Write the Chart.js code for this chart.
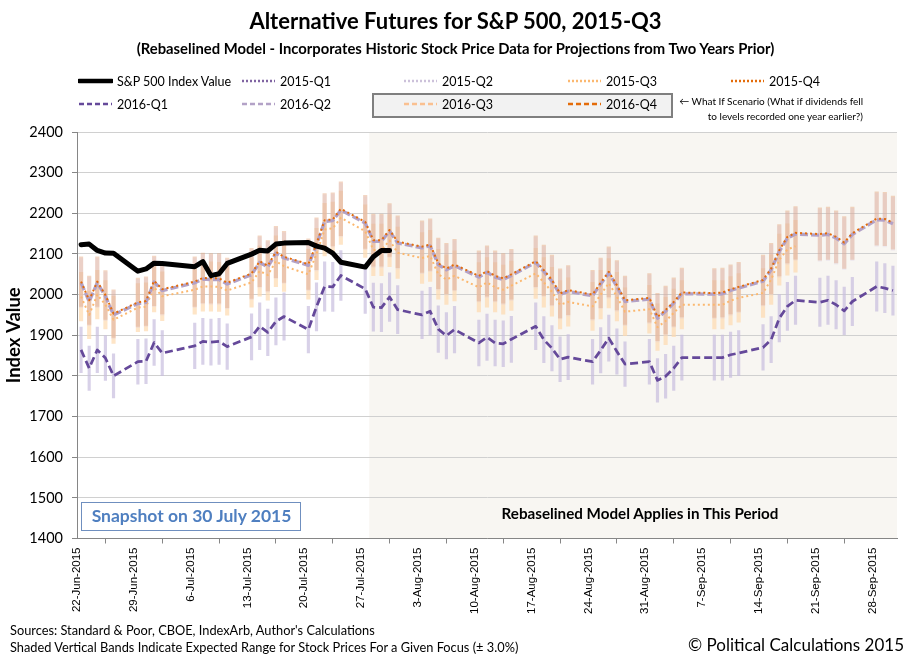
<!DOCTYPE html>
<html>
<head>
<meta charset="utf-8">
<script src="https://cdn.jsdelivr.net/npm/chart.js@4.4.1/dist/chart.umd.min.js"></script>
<style>
  html, body { margin:0; padding:0; background:#fff; }
  #wrap { position:relative; width:911px; height:662px; overflow:hidden; font-family:'Lato', 'Noto Sans', sans-serif; }
  #c { position:absolute; left:0; top:0; }
  .t { position:absolute; white-space:nowrap; color:#000; }
  .lg { position:absolute; height:14px; display:flex; align-items:center; font-size:12.5px; white-space:nowrap; }
  .lg svg { margin-right:4px; }
</style>
</head>
<body>
<div id="wrap">
  <canvas id="c" width="911" height="662"></canvas>

  <div class="t" style="left:0;width:911px;top:7px;text-align:center;font-weight:bold;font-size:22px;">Alternative Futures for S&amp;P 500, 2015-Q3</div>
  <div class="t" style="left:0;width:911px;top:39px;text-align:center;font-weight:bold;font-size:14.8px;">(Rebaselined Model - Incorporates Historic Stock Price Data for Projections from Two Years Prior)</div>

  <div style="position:absolute;left:372px;top:93px;width:297px;height:21px;border:2px solid #7f7f7f;background:#f2f2f2;"></div>
  <div id="legend"></div>
  <div class="t" style="left:600px;width:263px;top:94px;text-align:right;font-size:10px;line-height:15px;">&larr; What If Scenario (What if dividends fell<br>to levels recorded one year earlier?)</div>

  <div style="position:absolute;left:81px;top:502px;width:218px;height:27px;border:1.5px solid #6f8fbf;background:#fff;"></div>
  <div class="t" style="left:81px;width:221px;top:505px;text-align:center;font-weight:bold;font-size:17.5px;color:#4f7fc0;">Snapshot on 30 July 2015</div>
  <div class="t" style="left:470px;width:340px;top:504px;text-align:center;font-weight:bold;font-size:15.2px;">Rebaselined Model Applies in This Period</div>

  <div class="t" style="left:10px;top:622px;font-size:12.8px;">Sources: Standard &amp; Poor, CBOE, IndexArb, Author's Calculations</div>
  <div class="t" style="left:10px;top:639px;font-size:12.8px;">Shaded Vertical Bands Indicate Expected Range for Stock Prices For a Given Focus (&plusmn; 3.0%)</div>
  <div class="t" style="right:7px;top:634px;font-size:17px;">&copy; Political Calculations 2015</div>
</div>

<script>
// ---------------- DATA ----------------
const tradingDates = [
  '2015-06-22','2015-06-23','2015-06-24','2015-06-25','2015-06-26',
  '2015-06-29','2015-06-30','2015-07-01','2015-07-02',
  '2015-07-06','2015-07-07','2015-07-08','2015-07-09','2015-07-10',
  '2015-07-13','2015-07-14','2015-07-15','2015-07-16','2015-07-17',
  '2015-07-20','2015-07-21','2015-07-22','2015-07-23','2015-07-24',
  '2015-07-27','2015-07-28','2015-07-29','2015-07-30','2015-07-31',
  '2015-08-03','2015-08-04','2015-08-05','2015-08-06','2015-08-07',
  '2015-08-10','2015-08-11','2015-08-12','2015-08-13','2015-08-14',
  '2015-08-17','2015-08-18','2015-08-19','2015-08-20','2015-08-21',
  '2015-08-24','2015-08-25','2015-08-26','2015-08-27','2015-08-28',
  '2015-08-31','2015-09-01','2015-09-02','2015-09-03','2015-09-04',
  '2015-09-08','2015-09-09','2015-09-10','2015-09-11',
  '2015-09-14','2015-09-15','2015-09-16','2015-09-17','2015-09-18',
  '2015-09-21','2015-09-22','2015-09-23','2015-09-24','2015-09-25',
  '2015-09-28','2015-09-29','2015-09-30'
];

const sp500Index = [
  2122.85,2124.20,2108.58,2102.31,2101.49,
  2057.64,2063.11,2077.42,2076.78,
  2068.76,2081.34,2046.68,2051.31,2076.62,
  2099.60,2108.95,2107.40,2124.29,2126.64,
  2128.28,2119.21,2114.15,2102.15,2079.65,
  2067.64,2093.25,2108.57,2108.63
];

const fut2015Q1 = [];
const fut2015Q2 = [];

const fut2015Q3 = [
  1995,1950,2000,1975,1938,
  1968,1970,2018,1996,
  2012,2020,2020,2019,2010,
  2030,2058,2048,2082,2070,
  2050,2100,2160,2163,2189,
  2156,2110,2110,2133,2103,
  2090,2095,2050,2037,2046,
  2018,2030,2018,2012,2022,
  2052,2030,2007,1975,1982,
  1971,2000,2028,1995,1958,
  1964,1920,1935,1955,1975,
  1975,1975,1985,1992,
  2004,2037,2086,2111,2119
];

const fut2015Q4 = [
  2032,1986,2032,1999,1953,
  1981,1984,2034,2013,
  2032,2041,2040,2040,2029,
  2052,2082,2071,2105,2093,
  2075,2125,2183,2185,2211,
  2179,2134,2134,2159,2130,
  2118,2123,2077,2064,2074,
  2046,2058,2046,2040,2050,
  2082,2060,2036,2003,2011,
  2000,2029,2056,2023,1986,
  1992,1945,1962,1982,2005,
  2004,2005,2013,2019,
  2036,2064,2109,2142,2152,
  2149,2151,2142,2128,2151,
  2187,2186,2177
];

const fut2016Q1 = [
  1864,1819,1864,1844,1800,
  1835,1836,1882,1856,
  1874,1885,1883,1885,1872,
  1896,1922,1907,1934,1946,
  1914,1970,2020,2019,2047,
  2014,1969,1968,1994,1963,
  1950,1959,1915,1899,1914,
  1881,1895,1881,1879,1890,
  1922,1889,1868,1841,1846,
  1835,1863,1893,1860,1829,
  1835,1789,1799,1819,1845,
  1845,1845,1852,1856,
  1870,1889,1942,1971,1986,
  1981,1986,1975,1960,1983,
  2020,2016,2010
];

const fut2016Q2 = [
  2029,1983,2029,1996,1950,
  1978,1981,2031,2010,
  2029,2038,2037,2037,2026,
  2049,2079,2068,2102,2090,
  2072,2122,2180,2182,2208,
  2176,2131,2131,2156,2127,
  2115,2120,2074,2061,2071,
  2043,2055,2043,2037,2047,
  2079,2057,2033,2000,2008,
  1997,2026,2053,2020,1983,
  1989,1942,1959,1979,2002,
  2001,2002,2010,2016,
  2033,2061,2106,2139,2149,
  2146,2148,2139,2125,2148,
  2184,2183,2174
];

const fut2016Q3 = [];
const fut2016Q4 = [];

const bandPct = 0.03;   // +/- 3.0 %

const tickDates = ['2015-06-22','2015-06-29','2015-07-06','2015-07-13','2015-07-20','2015-07-27','2015-08-03',
  '2015-08-10','2015-08-17','2015-08-24','2015-08-31','2015-09-07','2015-09-14','2015-09-21','2015-09-28'];
const tickLabels = ['22-Jun-2015','29-Jun-2015','6-Jul-2015','13-Jul-2015','20-Jul-2015','27-Jul-2015','3-Aug-2015',
  '10-Aug-2015','17-Aug-2015','24-Aug-2015','31-Aug-2015','7-Sep-2015','14-Sep-2015','21-Sep-2015','28-Sep-2015'];
const axisStart = '2015-06-22';
const axisEnd = '2015-10-01';
const modelStart = '2015-07-28';
const yMin = 1400, yMax = 2400, yStep = 100;

// ---------------- HELPERS ----------------
function dayNum(s){ const p = s.split('-').map(Number); return Date.UTC(p[0], p[1]-1, p[2]) / 86400000; }
const D0 = dayNum(axisStart);
function dayOf(s){ return dayNum(s) - D0; }
function pts(arr){ return arr.map((v,i)=>({x: dayOf(tradingDates[i]) + 0.5, y: v})); }
function band(arr){ return arr.map((v,i)=>({x: dayOf(tradingDates[i]) + 0.5, y: [v*(1-bandPct), v*(1+bandPct)]})); }

const styles = {
  sp:   {label:'S&P 500 Index Value', color:'#000000', dash:[], width:5},
  q151: {label:'2015-Q1', color:'#8064a2', dash:[2,2.5], width:2},
  q152: {label:'2015-Q2', color:'#ccc1da', dash:[2,2.5], width:2},
  q153: {label:'2015-Q3', color:'#fbb870', dash:[2,3], width:2},
  q154: {label:'2015-Q4', color:'#e46c0a', dash:[2,3], width:2},
  q161: {label:'2016-Q1', color:'#65499a', dash:[8,4], width:2.75},
  q162: {label:'2016-Q2', color:'#b3a2c7', dash:[8,3], width:3.3},
  q163: {label:'2016-Q3', color:'#fac090', dash:[8,4], width:2.5},
  q164: {label:'2016-Q4', color:'#e46c0a', dash:[8,4], width:2.5}
};

function lineDs(key, arr, order){
  const s = styles[key];
  return {type:'line', label:s.label, data:pts(arr), borderColor:s.color, borderWidth:s.width,
    borderDash:s.dash, pointRadius:0, fill:false, tension:0, order:order,
    borderCapStyle: s.dash.length ? 'butt' : 'round', borderJoinStyle:'round'};
}
function bandDs(label, arr, color, thick, order){
  return {type:'bar', label:label, data:band(arr), backgroundColor:color, borderWidth:0,
    barThickness:thick, grouped:false, order:order};
}

// ---------------- LEGEND (HTML) ----------------
(function(){
  const L = document.getElementById('legend');
  const items = [
    ['sp',78,81],['q151',241,81],['q152',403,81],['q153',567,81],['q154',730,81],
    ['q161',78,104],['q162',241,104],['q163',403,104],['q164',567,104]
  ];
  items.forEach(([k,x,y])=>{
    const s = styles[k];
    const d = document.createElement('div');
    d.className = 'lg';
    d.style.left = x + 'px'; d.style.top = (y-7) + 'px';
    const w = s.width > 4 ? 4.5 : 2.5;
    const da = s.dash.length ? (s.dash[0] < 3 ? '2,2' : '5,3') : '';
    d.innerHTML = '<svg width="35" height="10"><line x1="1" y1="5" x2="34" y2="5" stroke="' + s.color +
      '" stroke-width="' + w + '" stroke-linecap="' + (da ? 'butt' : 'round') + '"' +
      (da ? ' stroke-dasharray="' + da + '"' : '') + '/></svg><span>' + s.label.replace('&','&amp;') + '</span>';
    L.appendChild(d);
  });
})();

// ---------------- CHART ----------------
const shadePlugin = {
  id:'shade',
  beforeDraw(chart){
    const {ctx, chartArea, scales} = chart;
    const x0 = scales.x.getPixelForValue(dayOf(modelStart));
    ctx.save();
    ctx.fillStyle = '#f8f6f2';
    ctx.fillRect(x0, chartArea.top, chartArea.right - x0, chartArea.bottom - chartArea.top);
    ctx.restore();
  }
};

new Chart(document.getElementById('c'), {
  type:'line',
  data:{
    datasets:[
      lineDs('sp', sp500Index, 0),
      lineDs('q161', fut2016Q1, 1),
      lineDs('q154', fut2015Q4, 2),
      lineDs('q164', fut2016Q4, 3),
      lineDs('q163', fut2016Q3, 4),
      lineDs('q162', fut2016Q2, 5),
      lineDs('q153', fut2015Q3, 6),
      lineDs('q152', fut2015Q2, 7),
      lineDs('q151', fut2015Q1, 8),
      bandDs('2016-Q1 range', fut2016Q1, 'rgba(200,190,222,0.7)', 2.5, 20),
      bandDs('2016-Q2 range', fut2016Q2, 'rgba(200,185,220,0.18)', 3.5, 21),
      bandDs('2015-Q4 range', fut2015Q4, 'rgba(228,165,120,0.45)', 3.5, 22),
      bandDs('2015-Q3 range', fut2015Q3, 'rgba(253,218,175,0.7)', 3.5, 23)
    ]
  },
  options:{
    responsive:false,
    animation:false,
    devicePixelRatio:1,
    layout:{padding:{top:132, right:14, bottom:0, left:0}},
    plugins:{legend:{display:false}, tooltip:{enabled:false}, title:{display:false}},
    scales:{
      x:{
        type:'linear', offset:false,
        min: 0, max: dayOf(axisEnd),
        afterBuildTicks(s){ s.ticks = tickDates.map(d=>({value: dayOf(d)})); },
        afterFit(s){ s.height = 662 - 538.5; },
        ticks:{
          autoSkip:false, maxRotation:90, minRotation:90, padding:4,
          font:{family:'Liberation Sans', size:11.5}, color:'#000',
          callback(v){ const i = tickDates.findIndex(d=>dayOf(d)===v); return i>=0 ? tickLabels[i] : ''; }
        },
        grid:{drawOnChartArea:false, drawTicks:true, tickLength:5, tickColor:'#868686'},
        border:{color:'#868686', width:1}
      },
      y:{
        min:yMin, max:yMax,
        afterFit(s){ s.width = 77; },
        ticks:{stepSize:yStep, padding:9, font:{family:'Lato', size:14.5}, color:'#000',
          callback(v){ return String(v); }},
        grid:{color:'#d0d0d0', lineWidth:1, tickLength:5, tickColor:'#868686'},
        border:{color:'#868686', width:1},
        title:{display:true, text:'Index Value', font:{family:'Lato', size:18.5, weight:'bold'}, color:'#000', padding:{top:3, bottom:0}}
      }
    }
  },
  plugins:[shadePlugin]
});
</script>
</body>
</html>
